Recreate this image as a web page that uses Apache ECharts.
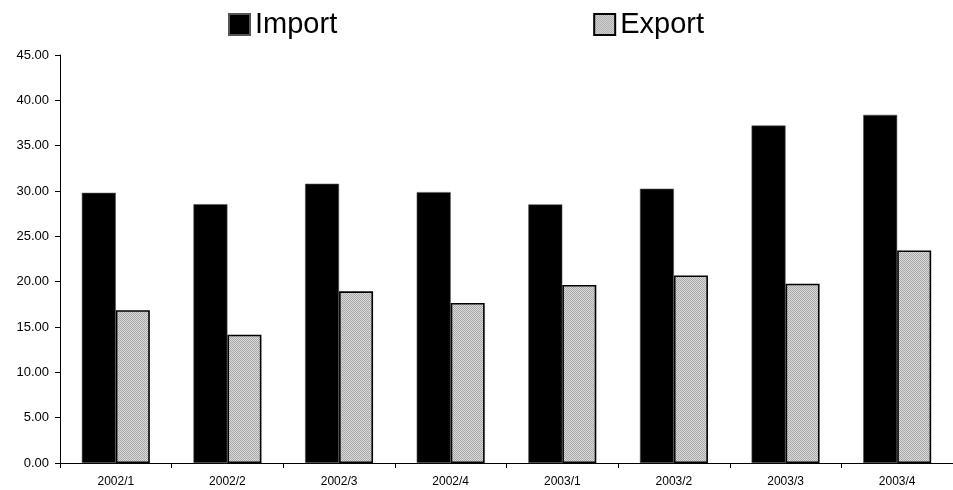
<!DOCTYPE html>
<html>
<head>
<meta charset="utf-8">
<script src="https://cdn.jsdelivr.net/npm/echarts@6/dist/echarts.min.js"></script>
<style>
  html, body { margin: 0; padding: 0; background: #fff; }
  #chart { width: 953px; height: 490px; }
</style>
</head>
<body>
<div id="chart"></div>
<script>
// Quarterly trade figures
const quarters = ['2002/1', '2002/2', '2002/3', '2002/4', '2003/1', '2003/2', '2003/3', '2003/4'];
const importValues = [29.80, 28.55, 30.80, 29.88, 28.52, 30.25, 37.22, 38.40];
const exportValues = [16.86, 14.15, 18.93, 17.65, 19.64, 20.69, 19.78, 23.45];
const seriesNames = ['Import', 'Export'];

// Fine grey dither used as the fill of the export bars
function ditherPattern() {
  const c = document.createElement('canvas');
  c.width = 2; c.height = 2;
  const ctx = c.getContext('2d');
  ctx.fillStyle = '#dadada';
  ctx.fillRect(0, 0, 2, 2);
  ctx.fillStyle = '#a8a8a8';
  ctx.fillRect(0, 0, 1, 1);
  ctx.fillRect(1, 1, 1, 1);
  return c;
}

const font = 'Liberation Sans, Arial, sans-serif';
const chart = echarts.init(document.getElementById('chart'), null, { renderer: 'canvas' });

chart.setOption({
  animation: false,
  backgroundColor: '#fff',
  legend: {
    left: 223,
    top: 5,
    itemGap: 256,
    itemWidth: 21,
    itemHeight: 21,
    icon: 'rect',
    textStyle: { fontFamily: font, fontSize: 29, color: '#000' },
    data: seriesNames
  },
  grid: { left: 60, right: -11, top: 55, bottom: 27, containLabel: false },
  xAxis: {
    type: 'category',
    data: quarters,
    boundaryGap: true,
    axisLine: { lineStyle: { color: '#000', width: 1 } },
    axisTick: { show: true, interval: 0, length: 5, lineStyle: { color: '#000' } },
    axisLabel: { fontFamily: font, fontSize: 12, color: '#000', margin: 13, interval: 0 },
    splitLine: { show: false }
  },
  yAxis: {
    type: 'value',
    min: 0,
    max: 45,
    interval: 5,
    axisLine: { show: true, lineStyle: { color: '#000', width: 1 } },
    axisTick: { show: true, length: 5, lineStyle: { color: '#000' } },
    axisLabel: {
      fontFamily: font, fontSize: 13, color: '#000', margin: 11,
      formatter: v => v.toFixed(2)
    },
    splitLine: { show: false }
  },
  series: [
    {
      name: seriesNames[0],
      type: 'bar',
      data: importValues,
      barWidth: 34,
      barGap: '0%',
      itemStyle: { color: '#000', borderColor: '#555', borderWidth: 0.6 }
    },
    {
      name: seriesNames[1],
      type: 'bar',
      data: exportValues,
      barWidth: 34,
      barGap: '0%',
      itemStyle: {
        color: { image: ditherPattern(), repeat: 'repeat' },
        borderColor: '#000',
        borderWidth: 1.6
      }
    }
  ]
});
</script>
</body>
</html>
